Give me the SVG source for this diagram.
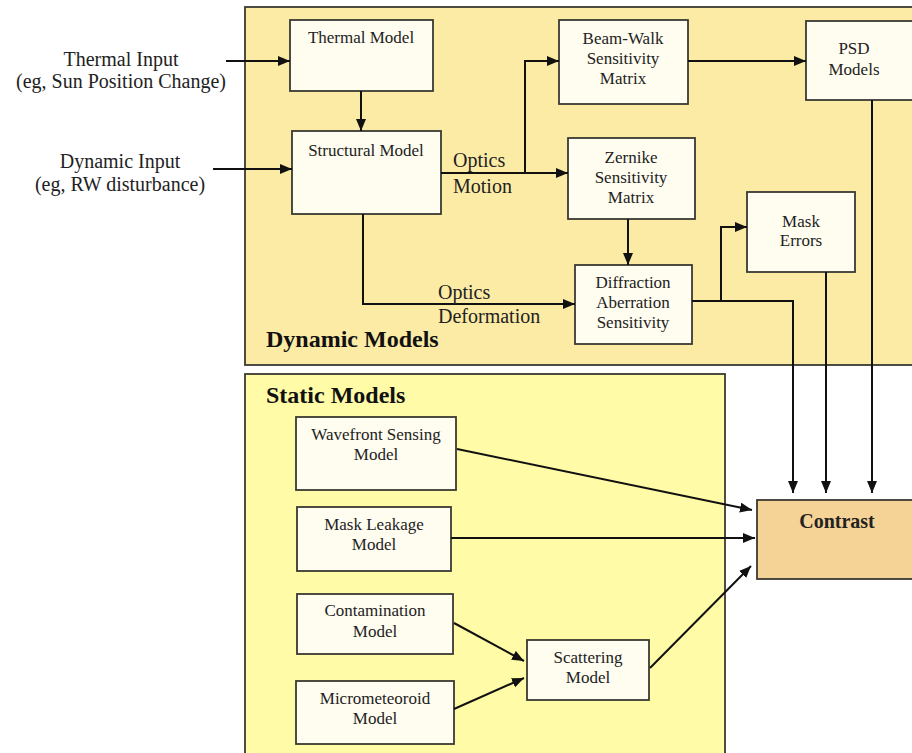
<svg xmlns="http://www.w3.org/2000/svg" width="912" height="753" viewBox="0 0 912 753">
<defs>
<marker id="ah" markerUnits="userSpaceOnUse" markerWidth="12" markerHeight="10" refX="12" refY="5" orient="auto">
<path d="M0,0 L12,5 L0,10 z" fill="#111"/>
</marker>
<style>
.node{fill:#FFFDF0;stroke:#3a3a32;stroke-width:1.8}
.t{font-family:"Liberation Serif","Times New Roman",serif;font-size:17px;fill:#222;text-anchor:middle}
.lbl{font-family:"Liberation Serif","Times New Roman",serif;font-size:20px;fill:#222}
.ttl{font-family:"Liberation Serif","Times New Roman",serif;font-size:24px;font-weight:bold;fill:#111}
.c{fill:none;stroke:#111;stroke-width:2;marker-end:url(#ah)}
.cn{fill:none;stroke:#111;stroke-width:2}
</style>
</defs>
<rect width="912" height="753" fill="#fff"/>
<g id="dynamic-panel">
<rect x="245" y="7" width="680" height="358" fill="#FCEBA5" stroke="#3a3a32" stroke-width="1.8"/>
<text class="ttl" x="266" y="347">Dynamic Models</text>
</g>
<g id="static-panel">
<rect x="245" y="374" width="480" height="400" fill="#FFFBA6" stroke="#3a3a32" stroke-width="1.8"/>
<text class="ttl" x="266" y="403">Static Models</text>
</g>
<g id="thermal-input">
<text class="lbl" x="121" y="66" text-anchor="middle">Thermal Input</text>
<text class="lbl" x="121" y="88" text-anchor="middle">(eg, Sun Position Change)</text>
</g>
<g id="dynamic-input">
<text class="lbl" x="120" y="168" text-anchor="middle">Dynamic Input</text>
<text class="lbl" x="120" y="191" text-anchor="middle">(eg, RW disturbance)</text>
</g>
<g id="thermal-model">
<rect class="node" x="290" y="20" width="143" height="71"/>
<text class="t" x="361" y="43">Thermal Model</text>
</g>
<g id="structural-model">
<rect class="node" x="292" y="131" width="149" height="83"/>
<text class="t" x="366" y="156">Structural Model</text>
</g>
<g id="beam-walk">
<rect class="node" x="559" y="20" width="129" height="84"/>
<text class="t" x="623" y="44">Beam-Walk</text>
<text class="t" x="623" y="64">Sensitivity</text>
<text class="t" x="623" y="84">Matrix</text>
</g>
<g id="psd-models">
<rect class="node" x="806" y="21" width="130" height="79"/>
<text class="t" x="854" y="54">PSD</text>
<text class="t" x="854" y="75">Models</text>
</g>
<g id="zernike">
<rect class="node" x="568" y="138" width="127" height="81"/>
<text class="t" x="631" y="163">Zernike</text>
<text class="t" x="631" y="183">Sensitivity</text>
<text class="t" x="631" y="203">Matrix</text>
</g>
<g id="mask-errors">
<rect class="node" x="747" y="192" width="108" height="80"/>
<text class="t" x="801" y="227">Mask</text>
<text class="t" x="801" y="246">Errors</text>
</g>
<g id="diffraction">
<rect class="node" x="575" y="265" width="117" height="79"/>
<text class="t" x="633" y="288">Diffraction</text>
<text class="t" x="633" y="308">Aberration</text>
<text class="t" x="633" y="328">Sensitivity</text>
</g>
<g id="wavefront">
<rect class="node" x="296" y="417" width="160" height="73"/>
<text class="t" x="376" y="440">Wavefront Sensing</text>
<text class="t" x="376" y="460">Model</text>
</g>
<g id="mask-leakage">
<rect class="node" x="297" y="507" width="154" height="64"/>
<text class="t" x="374" y="530">Mask Leakage</text>
<text class="t" x="374" y="550">Model</text>
</g>
<g id="contamination">
<rect class="node" x="297" y="594" width="156" height="60"/>
<text class="t" x="375" y="616">Contamination</text>
<text class="t" x="375" y="637">Model</text>
</g>
<g id="micrometeoroid">
<rect class="node" x="296" y="681" width="158" height="63"/>
<text class="t" x="375" y="704">Micrometeoroid</text>
<text class="t" x="375" y="724">Model</text>
</g>
<g id="scattering">
<rect class="node" x="527" y="640" width="122" height="60"/>
<text class="t" x="588" y="663">Scattering</text>
<text class="t" x="588" y="683">Model</text>
</g>
<g id="contrast">
<rect x="757" y="500" width="180" height="79" fill="#F5D295" stroke="#3a3a32" stroke-width="1.8"/>
<text class="t" x="837" y="528" style="font-weight:bold;font-size:20px">Contrast</text>
</g>
<g id="connectors">
<path class="c" d="M226,61 H290"/>
<path class="c" d="M213,169 H292"/>
<path class="c" d="M361,91 V131"/>
<path class="c" d="M441,173 H568"/>
<path class="c" d="M525,173 V61 H559"/>
<path class="c" d="M688,61 H806"/>
<path class="c" d="M363,214 V304 H575"/>
<path class="c" d="M628,219 V265"/>
<path class="c" d="M692,301 H721 V227 H747"/>
<path class="c" d="M721,301 H793 V493"/>
<path class="c" d="M826,272 V493"/>
<path class="c" d="M872,100 V493"/>
<path class="c" d="M457,449 L752,510"/>
<path class="c" d="M451,538 H755"/>
<path class="c" d="M454,623 L524,661"/>
<path class="c" d="M454,709 L524,678"/>
<path class="c" d="M650,668 L751,566"/>
<text class="lbl" x="453" y="167">Optics</text>
<text class="lbl" x="453" y="193">Motion</text>
<text class="lbl" x="438" y="299">Optics</text>
<text class="lbl" x="438" y="323">Deformation</text>
</g>
</svg>
